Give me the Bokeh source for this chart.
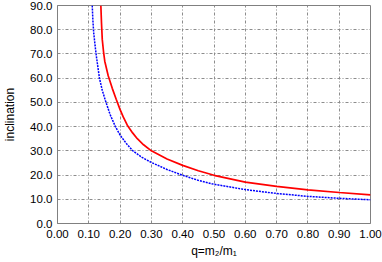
from bokeh.plotting import figure
from bokeh.models import Range1d, FixedTicker, PrintfTickFormatter
from bokeh.embed import file_html
from bokeh.resources import INLINE

# Data
red_q = [0.1385, 0.1405, 0.143, 0.147, 0.151, 0.162, 0.175, 0.1875, 0.2, 0.21, 0.223,
         0.24, 0.255, 0.275, 0.3, 0.35, 0.4, 0.45, 0.5, 0.6, 0.7, 0.8, 0.9, 1.0]
red_i = [90, 83, 76, 71, 67, 61, 55.8, 51.3, 47, 44.0, 40.6,
         37.4, 35.0, 32.5, 30.0, 26.6, 24.0, 21.8, 19.9, 17.1, 15.3, 13.9, 12.8, 11.8]
blue_q = [0.111, 0.113, 0.1155, 0.12, 0.1246, 0.134, 0.143, 0.153, 0.168, 0.185, 0.2,
          0.22, 0.241, 0.27, 0.3, 0.35, 0.4, 0.45, 0.5, 0.6, 0.7, 0.8, 0.9, 1.0]
blue_i = [90, 84, 79, 73.5, 68.7, 60, 55, 50.8, 45, 40, 36.5,
          33, 30, 27.3, 25.2, 22.3, 19.9, 17.8, 16.2, 14.0, 12.4, 11.2, 10.4, 9.8]
x_ticks = [0.0, 0.1, 0.2, 0.3, 0.4, 0.5, 0.6, 0.7, 0.8, 0.9, 1.0]
y_ticks = [0, 10, 20, 30, 40, 50, 60, 70, 80, 90]

p = figure(width=382, height=262, output_backend="svg", toolbar_location=None,
           x_range=Range1d(0, 1), y_range=Range1d(0, 90),
           min_border_left=57, min_border_right=12, min_border_top=5, min_border_bottom=39)

p.line(red_q, red_i, line_color="#ff0000", line_width=1.7)
p.line(blue_q, blue_i, line_color="#0000ff", line_width=1.5, line_dash="2 1")

FONT = "Liberation Sans"
for ax in (p.xaxis[0], p.yaxis[0]):
    ax.major_tick_out = 0
    ax.major_tick_in = 0
    ax.minor_tick_out = 0
    ax.minor_tick_in = 0
    ax.axis_line_color = "#808080"
    ax.major_label_text_font = FONT
    ax.major_label_text_font_size = "11.5px"
    ax.major_label_text_color = "#000000"
    ax.axis_label_text_font = FONT
    ax.axis_label_text_font_style = "normal"
    ax.axis_label_text_color = "#000000"
    ax.axis_label_text_font_size = "12px"

p.xaxis.ticker = FixedTicker(ticks=x_ticks)
p.yaxis.ticker = FixedTicker(ticks=y_ticks)
p.xaxis.formatter = PrintfTickFormatter(format="%.2f")
p.yaxis.formatter = PrintfTickFormatter(format="%.1f")
p.xaxis.axis_label = "q=m\u2082/m\u2081"
p.yaxis.axis_label = "inclination"
p.xaxis.major_label_standoff = 6
p.yaxis.major_label_standoff = 5
p.xaxis.axis_label_standoff = 3
p.yaxis.axis_label_standoff = 10

for g in (p.xgrid[0], p.ygrid[0]):
    g.grid_line_color = "#8c8c8c"
    g.grid_line_dash = "3 2 1 2"
    g.grid_line_width = 1

p.outline_line_color = "#808080"
p.outline_line_width = 1
p.background_fill_color = "white"
p.border_fill_color = "white"

open("out.html", "w").write(file_html(p, INLINE))
